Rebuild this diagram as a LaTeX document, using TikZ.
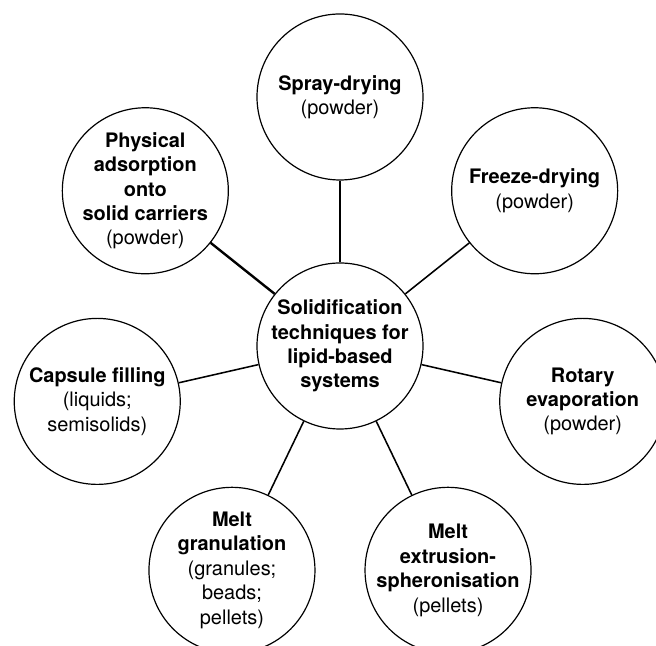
\documentclass[tikz,border=0pt]{standalone}
\usepackage{fontspec}
\setmainfont{TeX Gyre Heros}
\usepackage{tikz}
\usepackage{xcolor}
\usetikzlibrary{shapes}

\begin{document}
\begin{tikzpicture}[
  kreis/.style={draw, circle, line width=0.85pt, minimum size=4.15cm, inner sep=-10pt, align=center,
    font=\fontsize{14.2}{17.4}\selectfont},
  verbindung/.style={line width=1.1pt},
  dick/.style={line width=1.7pt}]
\useasboundingbox (-8.5,-7.5) rectangle (7.9,8.65); % Rand wie im Original, unten und rechts werden Kreise abgeschnitten
\node[kreis] (mitte) at (0,0) {\textbf{Solidification}\\\textbf{techniques for}\\\textbf{lipid-based}\\\textbf{systems}};
\node[kreis] (spray) at (90:6.225) {\textbf{Spray-drying}\\(powder)};
\node[kreis] (freeze) at (38.571:6.225) {\textbf{Freeze-drying}\\(powder)};
\node[kreis] (rotary) at (-12.857:6.225) {\textbf{Rotary}\\\textbf{evaporation}\\(powder)};
\node[kreis] (extrusion) at (-64.286:6.225) {\textbf{Melt}\\\textbf{extrusion-}\\\textbf{spheronisation}\\(pellets)};
\node[kreis] (granulation) at (-115.714:6.225) {\textbf{Melt}\\\textbf{granulation}\\(granules;\\beads;\\pellets)};
\node[kreis] (capsule) at (-167.143:6.225) {\textbf{Capsule filling}\\(liquids;\\semisolids)};
\node[kreis] (adsorption) at (141.429:6.225) {\textbf{Physical}\\\textbf{adsorption}\\\textbf{onto}\\\textbf{solid carriers}\\(powder)};
\draw[verbindung] (mitte) -- (spray);
\draw[verbindung] (mitte) -- (freeze);
\draw[verbindung] (mitte) -- (rotary);
\draw[verbindung] (mitte) -- (extrusion);
\draw[verbindung] (mitte) -- (granulation);
\draw[verbindung] (mitte) -- (capsule);
\draw[dick] (mitte) -- (adsorption); % diese Linie ist im Original dicker
\end{tikzpicture}
\end{document}
